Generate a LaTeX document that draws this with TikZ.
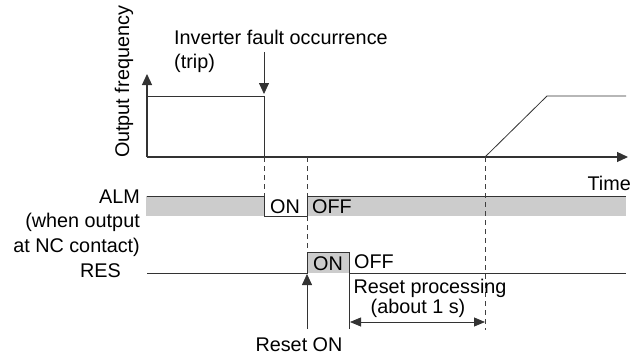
\documentclass[tikz,border=0pt]{standalone}
\usepackage{fontspec}
\setmainfont{Liberation Sans}
\usetikzlibrary{arrows.meta}
\begin{document}
\begin{tikzpicture}[x=1pt,y=-1pt,
  font=\fontsize{19.8}{22}\selectfont,
  sig/.style={draw=black!80,line width=1.2pt},
  thin/.style={draw=black!80,line width=0.8pt},
  dsh/.style={draw=black!75,line width=0.8pt,dash pattern=on 5pt off 4pt},
  tip/.style={-{Triangle[length=11pt,width=10pt]}},
  band/.style={fill=black!20},
  lbl/.style={inner sep=0pt}]
\useasboundingbox (0,0) rectangle (637,356);
% coordinates
\coordinate (o) at (147,157);
\coordinate (ytop) at (147,74);
\coordinate (xend) at (628,157);
\coordinate (f1) at (147,96);
\coordinate (f2) at (264,96);
\coordinate (f3) at (264,157);
\coordinate (r0) at (485,157);
\coordinate (r1) at (547,96);
\coordinate (r2) at (626,96);
% gray bands
\fill[band] (146,196) rectangle (264,216);
\fill[band] (307,196) rectangle (626,216);
\fill[band] (307,252) rectangle (349,273);
% frequency
\draw[sig,tip] (o) -- (ytop);
\draw[sig,tip] (o) -- (xend);
\draw[thin] (f1) -- (f2) -- (f3);
\draw[thin] (r0) -- (r1) -- (r2);
% ALM
\coordinate (a0) at (147,196);
\coordinate (a1) at (264,196);
\coordinate (a2) at (264,216);
\coordinate (a3) at (307,216);
\coordinate (a4) at (307,196);
\coordinate (a5) at (626,196);
\draw[thin] (a0) -- (a1) -- (a2) -- (a3) -- (a4) -- (a5);
% RES
\coordinate (s0) at (147,273);
\coordinate (s1) at (307,273);
\coordinate (s2) at (307,252);
\coordinate (s3) at (349,252);
\coordinate (s4) at (349,273);
\coordinate (s5) at (626,273);
\coordinate (s6) at (349,329);
\draw[thin] (s0) -- (s1) -- (s2) -- (s3) -- (s4) -- (s5);
\draw[thin] (s4) -- (s6);
% dashed lines
\coordinate (d1) at (264,196);
\coordinate (d2) at (307,157);
\coordinate (d3) at (485,330);
\draw[dsh] (f3) -- (d1);
\draw[dsh] (d2) -- (a4);
\draw[dsh] (a3) -- (s2);
\draw[dsh] (r0) -- (d3);
% trip arrow
\coordinate (t0) at (264,52);
\coordinate (t1) at (264,94);
\draw[thin,tip] (t0) -- (t1);
% reset on arrow
\coordinate (u0) at (307,329);
\coordinate (u1) at (307,274);
\draw[thin,tip] (u0) -- (u1);
% reset processing arrow
\coordinate (p0) at (350,322);
\coordinate (p1) at (485,322);
\draw[thin,{Triangle[length=11pt,width=9pt]}-{Triangle[length=11pt,width=9pt]}] (p0) -- (p1);
% texts
\node[lbl,rotate=90] (yl) at (124,82) {Output frequency};
\node[lbl,anchor=west] (inv) at (174,37) {Inverter fault occurrence};
\node[lbl,anchor=west] (trip) at (174,63) {(trip)};
\node[lbl,anchor=east] (time) at (631,183) {Time};
\node[lbl,anchor=east] (alm) at (140,197) {ALM};
\node[lbl,anchor=east] (alm2) at (140,222) {(when output};
\node[lbl,anchor=east] (alm3) at (140,247) {at NC contact)};
\node[lbl,anchor=east] (res) at (121,271) {RES};
\node[lbl] (aon) at (285,207) {ON};
\node[lbl,anchor=west] (aoff) at (312,207) {OFF};
\node[lbl] (ron) at (328,264) {ON};
\node[lbl,anchor=west] (roff) at (354,262) {OFF};
\node[lbl] (rp) at (430,288) {Reset processing};
\node[lbl] (ab) at (418,308) {(about 1 s)};
\node[lbl] (ro) at (299,345) {Reset ON};
\end{tikzpicture}
\end{document}
